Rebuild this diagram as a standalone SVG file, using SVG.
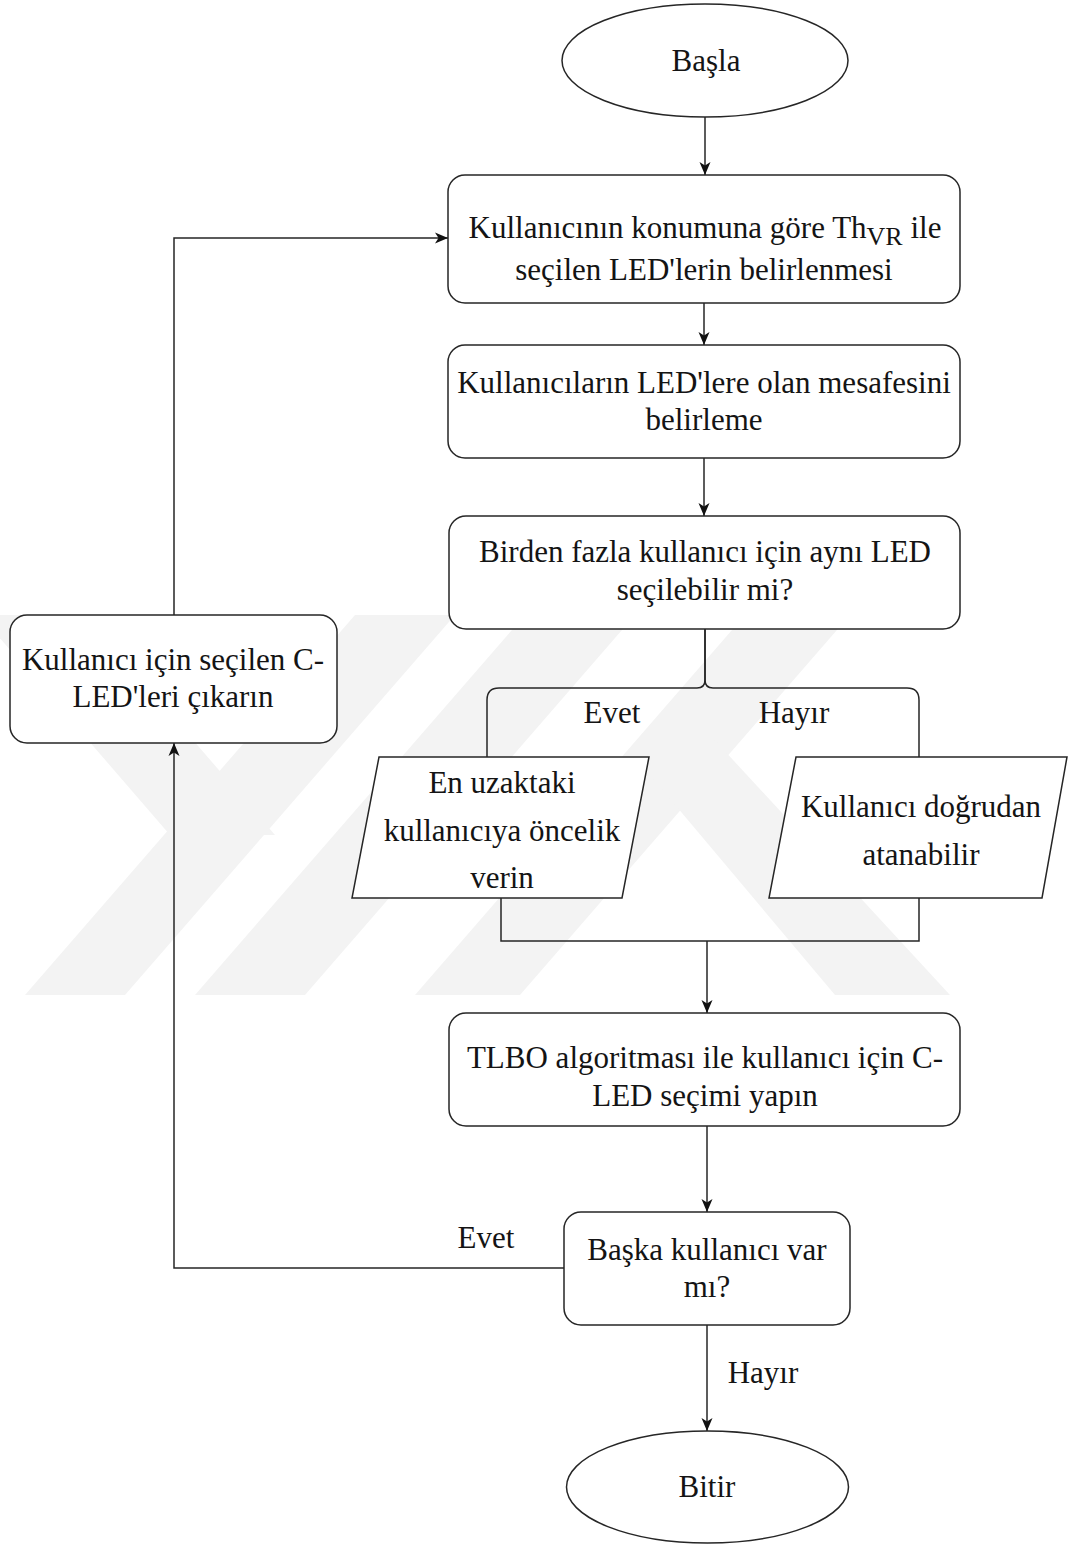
<svg xmlns="http://www.w3.org/2000/svg" width="1070" height="1544" viewBox="0 0 1070 1544">
  <defs>
    <marker id="arrow" markerUnits="userSpaceOnUse" markerWidth="14" markerHeight="14" viewBox="0 0 14 14" refX="13" refY="7" orient="auto">
      <path d="M0,1.5 L13,7 L0,12.5 L3.5,7 Z" fill="#111111"/>
    </marker>
    <style>
      .node { fill: #ffffff; stroke: #262626; stroke-width: 1.5; }
      .edge { fill: none; stroke: #262626; stroke-width: 1.5; }
      .arr { marker-end: url(#arrow); }
      .lbl { font-family: "Liberation Serif", "Times New Roman", serif; font-size: 31px; fill: #141414; text-anchor: middle; }
      .mark { fill: #f3f3f3; stroke: none; }
    </style>
  </defs>

  <rect x="0" y="0" width="1070" height="1544" fill="#ffffff"/>

  <!-- faint background emblem -->
  <g id="emblem">
    <polygon class="mark" points="-20,615 85,615 275,835 170,835"/>
    <polygon class="mark" points="25,995 125,995 455,615 355,615"/>
    <polygon class="mark" points="195,995 305,995 635,615 525,615"/>
    <polygon class="mark" points="415,995 520,995 850,615 745,615"/>
    <polygon class="mark" points="650,775 710,735 950,995 835,995"/>
  </g>

  <!-- connectors -->
  <g id="connectors">
    <path class="edge arr" d="M705,117 V175"/>
    <path class="edge arr" d="M704,303 V345"/>
    <path class="edge arr" d="M704,458 V516"/>
    <path class="edge" d="M705,629 V680 Q705,688 697,688 H499 Q487,688 487,700 V757"/>
    <path class="edge" d="M705,629 V680 Q705,688 713,688 H907 Q919,688 919,700 V757"/>
    <path class="edge" d="M501,898 V941 H919 V898"/>
    <path class="edge arr" d="M707,941 V1013"/>
    <path class="edge arr" d="M707,1126 V1212"/>
    <path class="edge arr" d="M707,1325 V1431"/>
    <path class="edge arr" d="M564,1268 H174 V743"/>
    <path class="edge arr" d="M174,615 V238 H448"/>
    <text class="lbl" x="612" y="723">Evet</text>
    <text class="lbl" x="794" y="723">Hayır</text>
    <text class="lbl" x="486" y="1248">Evet</text>
    <text class="lbl" x="763" y="1383">Hayır</text>
  </g>

  <g id="start">
    <ellipse class="node" cx="705" cy="60.5" rx="143" ry="56.5"/>
    <text class="lbl" x="706" y="71">Başla</text>
  </g>

  <g id="select-leds">
    <rect class="node" x="448" y="175" width="512" height="128" rx="17"/>
    <text class="lbl" x="705" y="238">Kullanıcının konumuna göre Th<tspan font-size="26" dy="7">VR</tspan><tspan dy="-7"> ile</tspan></text>
    <text class="lbl" x="704" y="280">seçilen LED'lerin belirlenmesi</text>
  </g>

  <g id="distance">
    <rect class="node" x="448" y="345" width="512" height="113" rx="17"/>
    <text class="lbl" x="704" y="393">Kullanıcıların LED'lere olan mesafesini</text>
    <text class="lbl" x="704" y="430">belirleme</text>
  </g>

  <g id="shared-led">
    <rect class="node" x="449" y="516" width="511" height="113" rx="17"/>
    <text class="lbl" x="705" y="562">Birden fazla kullanıcı için aynı LED</text>
    <text class="lbl" x="705" y="600">seçilebilir mi?</text>
  </g>

  <g id="priority">
    <polygon class="node" points="379,757 649,757 622,898 352,898"/>
    <text class="lbl" x="502" y="793">En uzaktaki</text>
    <text class="lbl" x="502" y="841">kullanıcıya öncelik</text>
    <text class="lbl" x="502" y="888">verin</text>
  </g>

  <g id="direct">
    <polygon class="node" points="796,757 1067,757 1042,898 769,898"/>
    <text class="lbl" x="921" y="817">Kullanıcı doğrudan</text>
    <text class="lbl" x="921" y="865">atanabilir</text>
  </g>

  <g id="tlbo">
    <rect class="node" x="449" y="1013" width="511" height="113" rx="17"/>
    <text class="lbl" x="705" y="1068">TLBO algoritması ile kullanıcı için C-</text>
    <text class="lbl" x="705" y="1106">LED seçimi yapın</text>
  </g>

  <g id="more-users">
    <rect class="node" x="564" y="1212" width="286" height="113" rx="17"/>
    <text class="lbl" x="707" y="1260">Başka kullanıcı var</text>
    <text class="lbl" x="707" y="1297">mı?</text>
  </g>

  <g id="remove-leds">
    <rect class="node" x="10" y="615" width="327" height="128" rx="17"/>
    <text class="lbl" x="173" y="670">Kullanıcı için seçilen C-</text>
    <text class="lbl" x="173" y="707">LED'leri çıkarın</text>
  </g>

  <g id="end">
    <ellipse class="node" cx="707.5" cy="1487" rx="141" ry="56"/>
    <text class="lbl" x="707" y="1497">Bitir</text>
  </g>
</svg>
